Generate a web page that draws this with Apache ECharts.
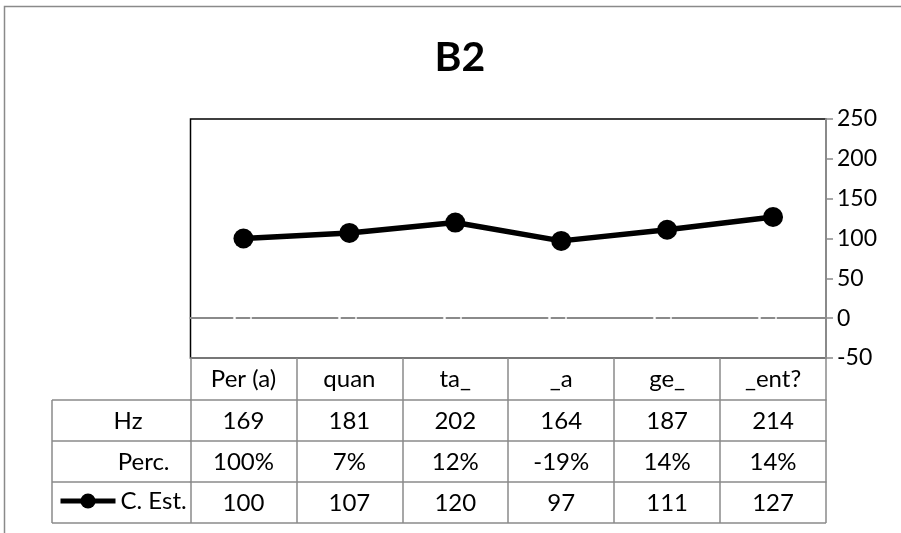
<!DOCTYPE html>
<html>
<head>
<meta charset="utf-8">
<script src="https://cdn.jsdelivr.net/npm/echarts@6/dist/echarts.min.js"></script>
<style>
  html, body { margin: 0; padding: 0; background: #fff; }
  #chart { width: 901px; height: 533px; }
</style>
</head>
<body>
<div id="chart"></div>
<script>
// ---- data ----
const categories = ['Per (a)', 'quan', 'ta_', '_a', 'ge_', '_ent?'];
const hzValues = [169, 181, 202, 164, 187, 214];
const percValues = [100, 7, 12, -19, 14, 14];
const estValues = [100, 107, 120, 97, 111, 127];
const yTicks = { min: -50, max: 250, interval: 50 };
const seriesName = 'C. Est.';
const titleText = 'B2';

const FONT = 'Lato, "Open Sans", sans-serif';
const GRAY = '#8a8a8a';
const ROW = [42, 83, 124];   // offsets of table rows below plot bottom

const chart = echarts.init(document.getElementById('chart'), null, { renderer: 'canvas' });

function tableAxis(data, offset, tickLen, name, nameGap) {
  return {
    type: 'category',
    data: data,
    position: 'bottom',
    offset: offset,
    boundaryGap: true,
    axisLine: { show: true, onZero: false, lineStyle: { color: GRAY, width: 1.5 } },
    axisTick: { show: true, length: tickLen, lineStyle: { color: GRAY, width: 1.5 } },
    axisLabel: { show: true, interval: 0, margin: 9, fontSize: 24, fontFamily: FONT, color: '#000' },
    splitLine: { show: false },
    name: name || '',
    nameLocation: 'start',
    nameGap: nameGap || 0,
    nameTextStyle: { fontSize: 24, fontFamily: FONT, color: '#000', verticalAlign: 'top', padding: [9, 0, 0, 0] }
  };
}

const option = {
  backgroundColor: '#fff',
  animation: false,
  title: {
    text: titleText,
    left: 455,
    top: 32,
    textAlign: 'center',
    textStyle: { fontSize: 41, fontWeight: 'bold', fontFamily: FONT, color: '#000' }
  },
  legend: {
    data: [seriesName],
    left: 58,
    top: 489,
    padding: 0,
    itemWidth: 55,
    itemHeight: 19,
    itemGap: 4,
    lineStyle: { width: 5, color: '#000' },
    itemStyle: { color: '#000' },
    textStyle: { fontSize: 24, fontFamily: FONT, color: '#000' }
  },
  grid: {
    left: 190.5,
    right: 75,
    top: 119,
    bottom: 175,
    show: true,
    borderColor: '#000',
    borderWidth: 1.5,
    backgroundColor: 'transparent'
  },
  xAxis: [
    {
      type: 'category',
      data: categories,
      position: 'bottom',
      boundaryGap: true,
      axisLine: {
        show: true, onZero: true,
        lineStyle: { color: GRAY, width: 2, type: [85, 4, 13, 3], dashOffset: 43 }
      },
      axisTick: { show: false },
      axisLabel: { show: false },
      splitLine: { show: false }
    },
    tableAxis(categories, 0, ROW[0]),
    tableAxis(hzValues, ROW[0], ROW[1] - ROW[0], 'Hz', 48),
    tableAxis(percValues.map(v => v + '%'), ROW[1], ROW[2] - ROW[1], 'Perc.', 21),
    tableAxis(estValues, ROW[2], 41)
  ],
  yAxis: {
    type: 'value',
    position: 'right',
    min: yTicks.min,
    max: yTicks.max,
    interval: yTicks.interval,
    axisLine: { show: true, lineStyle: { color: GRAY, width: 2 } },
    axisTick: { show: true, length: 7, lineStyle: { color: GRAY, width: 1.5 } },
    axisLabel: { margin: 11, fontSize: 23, fontFamily: FONT, color: '#000' },
    splitLine: { show: false }
  },
  series: [{
    name: seriesName,
    type: 'line',
    xAxisIndex: 0,
    data: estValues,
    symbol: 'circle',
    symbolSize: 20,
    lineStyle: { color: '#000', width: 5.5 },
    itemStyle: { color: '#000' },
    z: 5
  }],
  graphic: [
    // outer chart border
    { type: 'rect', shape: { x: 4.5, y: 6.5, width: 1000, height: 1000 }, style: { fill: 'none', stroke: GRAY, lineWidth: 1.5 }, silent: true },
    // left header column of the data table
    { type: 'line', shape: { x1: 52, y1: 400, x2: 191, y2: 400 }, style: { stroke: GRAY, lineWidth: 1.5 } },
    { type: 'line', shape: { x1: 52, y1: 441, x2: 191, y2: 441 }, style: { stroke: GRAY, lineWidth: 1.5 } },
    { type: 'line', shape: { x1: 52, y1: 482, x2: 191, y2: 482 }, style: { stroke: GRAY, lineWidth: 1.5 } },
    { type: 'line', shape: { x1: 52, y1: 523, x2: 826, y2: 523 }, style: { stroke: GRAY, lineWidth: 1.5 } },
    { type: 'line', shape: { x1: 52, y1: 400, x2: 52, y2: 523 }, style: { stroke: GRAY, lineWidth: 1.5 } }
  ]
};

chart.setOption(option);
</script>
</body>
</html>
